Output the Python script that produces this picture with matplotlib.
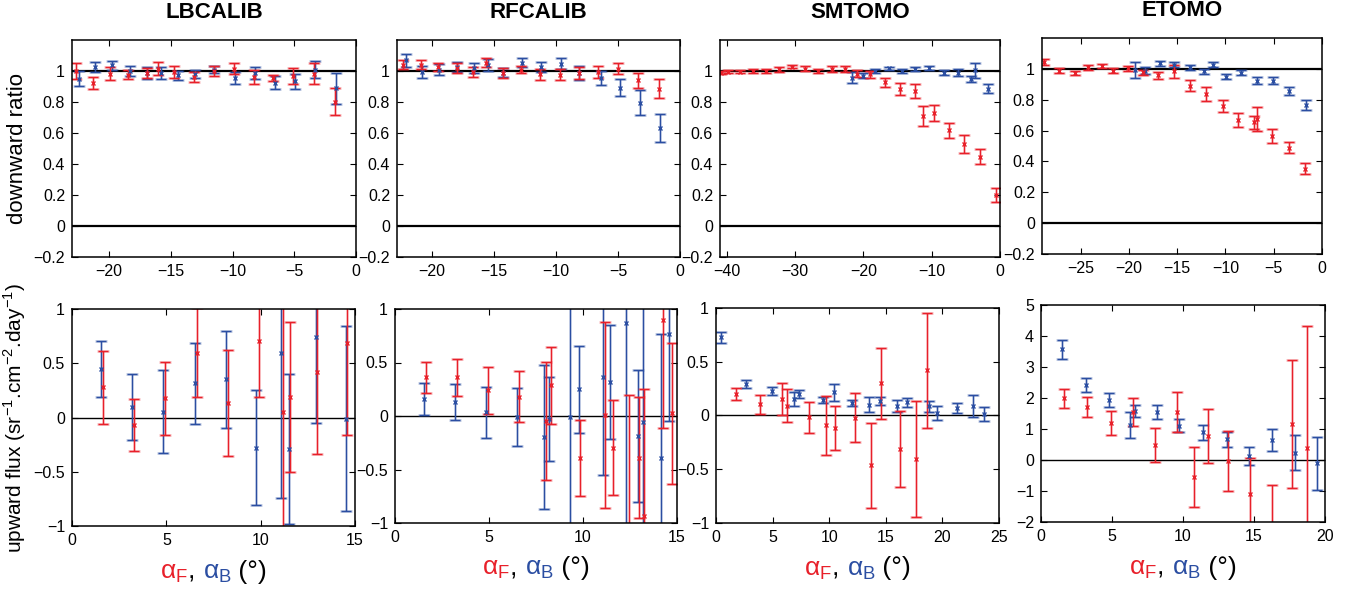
import matplotlib
matplotlib.use("Agg")
import matplotlib.pyplot as plt
from matplotlib.ticker import FuncFormatter
from matplotlib.offsetbox import TextArea, HPacker, AnchoredOffsetbox

plt.rcParams['font.family'] = ['Liberation Sans', 'DejaVu Sans']

RED = '#e8202a'
BLUE = '#2b4ea2'

titles = ["LBCALIB", "RFCALIB", "SMTOMO", "ETOMO"]

# --- downward ratio (top row) ---
# LBCALIB
lb_top_xF = [-22.7, -21.3, -19.9, -18.5, -16.9, -16.0, -14.7, -13.1, -11.5, -9.9, -8.3, -6.7, -5.1, -3.4, -1.7]
lb_top_yF = [1.0, 0.924, 0.983, 0.976, 0.987, 1.015, 0.993, 0.961, 1.0, 1.015, 0.961, 0.955, 0.968, 0.983, 0.803]
lb_top_eF = [0.05, 0.04, 0.04, 0.03, 0.035, 0.04, 0.037, 0.03, 0.03, 0.037, 0.045, 0.02, 0.05, 0.07, 0.09]
lb_top_xB = [-22.4, -21.1, -19.8, -18.3, -16.9, -15.8, -14.4, -13.0, -11.5, -9.8, -8.2, -6.6, -4.9, -3.3, -1.6]
lb_top_yB = [0.95, 1.026, 1.037, 1.0, 0.987, 0.987, 0.972, 0.983, 1.009, 0.955, 0.987, 0.924, 0.935, 1.009, 0.89]
lb_top_eB = [0.05, 0.03, 0.03, 0.03, 0.037, 0.037, 0.03, 0.025, 0.025, 0.04, 0.037, 0.043, 0.048, 0.057, 0.1]

# RFCALIB
rf_top_xF = [-22.3, -20.9, -19.5, -18.0, -16.7, -15.6, -14.3, -12.8, -11.3, -9.7, -8.1, -6.6, -5.0, -3.4, -1.7]
rf_top_yF = [1.04, 1.04, 1.026, 1.02, 0.994, 1.054, 0.987, 1.009, 0.978, 0.976, 0.987, 0.994, 1.015, 0.94, 0.886]
rf_top_eF = [0.03, 0.03, 0.025, 0.03, 0.03, 0.03, 0.03, 0.025, 0.035, 0.035, 0.04, 0.04, 0.037, 0.05, 0.06]
rf_top_xB = [-22.1, -20.8, -19.4, -18.0, -16.6, -15.5, -14.3, -12.7, -11.2, -9.6, -8.1, -6.4, -4.8, -3.2, -1.6]
rf_top_yB = [1.069, 0.994, 1.009, 1.026, 1.019, 1.04, 0.989, 1.054, 1.026, 1.047, 0.987, 0.957, 0.892, 0.796, 0.634]
rf_top_eB = [0.04, 0.04, 0.035, 0.03, 0.035, 0.04, 0.03, 0.03, 0.033, 0.037, 0.045, 0.045, 0.055, 0.08, 0.09]

# SMTOMO
sm_top_xF = [-40.9, -39.9, -38.0, -36.2, -34.2, -32.3, -30.4, -28.5, -26.6, -24.6, -22.7, -20.9, -19.0, -16.9, -14.7,
             -12.4, -11.3, -9.6, -7.5, -5.2, -2.9, -0.6]
sm_top_yF = [0.99, 0.996, 0.996, 1.0, 1.0, 1.01, 1.028, 1.015, 1.0, 1.015, 1.015, 0.983, 0.978, 0.928, 0.885,
             0.87, 0.71, 0.73, 0.617, 0.528, 0.448, 0.2]
sm_top_eF = [0.01, 0.01, 0.01, 0.01, 0.01, 0.015, 0.01, 0.015, 0.015, 0.02, 0.02, 0.022, 0.025, 0.03, 0.038,
             0.043, 0.065, 0.05, 0.05, 0.057, 0.05, 0.043]
sm_top_xB = [-21.7, -20.1, -18.3, -16.3, -14.4, -12.4, -10.4, -8.2, -6.2, -4.3, -3.7, -1.7]
sm_top_yB = [0.957, 0.97, 1.0, 1.017, 1.0, 1.01, 1.017, 0.99, 0.99, 0.947, 1.004, 0.887]
sm_top_eB = [0.035, 0.017, 0.012, 0.012, 0.012, 0.013, 0.013, 0.015, 0.02, 0.02, 0.048, 0.027]

# ETOMO
et_top_xF = [-28.8, -27.2, -25.6, -24.2, -22.8, -21.6, -20.1, -18.5, -17.0, -15.3, -13.7, -12.0, -10.3, -8.7,
             -7.0, -6.7, -5.2, -3.4, -1.8]
et_top_yF = [1.043, 0.989, 0.972, 1.009, 1.02, 0.989, 1.004, 0.978, 0.957, 0.983, 0.892, 0.837, 0.761, 0.668,
             0.653, 0.675, 0.564, 0.49, 0.354]
et_top_eF = [0.02, 0.015, 0.012, 0.015, 0.012, 0.015, 0.015, 0.015, 0.025, 0.04, 0.037, 0.043, 0.038, 0.043,
             0.04, 0.08, 0.043, 0.038, 0.038]
et_top_xB = [-19.4, -18.3, -16.8, -15.3, -13.7, -12.2, -11.3, -9.9, -8.4, -6.7, -5.1, -3.4, -1.7]
et_top_yB = [0.993, 0.989, 1.037, 1.026, 1.009, 0.983, 1.026, 0.95, 0.976, 0.924, 0.924, 0.857, 0.766]
et_top_eB = [0.05, 0.024, 0.017, 0.017, 0.017, 0.017, 0.017, 0.017, 0.017, 0.02, 0.025, 0.025, 0.03]

# --- upward flux (bottom row) ---
lb_bot_xB = [1.54, 3.18, 4.82, 6.5, 8.16, 9.77, 11.1, 11.5, 12.95, 14.5]
lb_bot_yB = [0.447, 0.099, 0.055, 0.314, 0.351, -0.28, 0.592, -0.29, 0.74, -0.01]
lb_bot_eB = [0.262, 0.305, 0.38, 0.37, 0.445, 0.53, 1.335, 0.69, 0.795, 0.85]
lb_bot_xF = [1.63, 3.3, 4.95, 6.6, 8.25, 9.9, 11.2, 11.55, 13.0, 14.6]
lb_bot_yF = [0.277, -0.065, 0.179, 0.598, 0.136, 0.709, 0.049, 0.191, 0.422, 0.69]
lb_bot_eF = [0.34, 0.24, 0.336, 0.413, 0.49, 0.524, 1.1, 0.69, 0.761, 0.847]

rf_bot_xB = [1.55, 3.2, 4.85, 6.48, 7.94, 8.2, 9.29, 9.77, 11.05, 11.46, 12.29, 12.93, 13.18, 14.17, 14.6]
rf_bot_yB = [0.158, 0.133, 0.034, -0.012, -0.198, -0.028, -0.012, 0.248, 0.36, 0.319, 0.868, -0.186, -0.059,
             -0.388, 0.767]
rf_bot_eB = [0.147, 0.17, 0.235, 0.27, 0.67, 0.395, 1.2, 0.41, 0.91, 0.535, 1.95, 0.62, 1.2, 1.155, 0.81]
rf_bot_xF = [1.63, 3.32, 4.97, 6.6, 8.03, 8.29, 9.86, 11.15, 11.58, 12.43, 12.98, 13.25, 14.24, 14.74]
rf_bot_yF = [0.36, 0.36, 0.242, 0.18, -0.047, 0.288, -0.394, 0.009, -0.295, -1.2, -0.388, -0.938, 0.9, 0.025]
rf_bot_eF = [0.145, 0.17, 0.22, 0.24, 0.55, 0.36, 0.355, 0.865, 0.44, 1.395, 0.565, 1.186, 1.015, 0.66]

sm_bot_xB = [0.44, 2.65, 4.97, 6.88, 7.35, 9.47, 10.4, 12.03, 13.5, 14.47, 16.0, 16.88, 18.8, 19.53, 21.3, 22.7, 23.7]
sm_bot_yB = [0.726, 0.291, 0.229, 0.152, 0.2, 0.146, 0.214, 0.115, 0.1, 0.136, 0.09, 0.124, 0.084, 0.022, 0.068,
             0.09, 0.016]
sm_bot_eB = [0.055, 0.035, 0.035, 0.067, 0.036, 0.028, 0.077, 0.031, 0.072, 0.04, 0.055, 0.041, 0.054, 0.067,
             0.047, 0.104, 0.067]
sm_bot_xF = [1.74, 3.88, 5.85, 6.24, 8.2, 9.76, 10.5, 12.26, 13.7, 14.56, 16.24, 17.7, 18.6]
sm_bot_yF = [0.2, 0.105, 0.152, 0.09, -0.016, -0.093, -0.118, -0.019, -0.465, 0.3, -0.313, -0.406, 0.419]
sm_bot_eF = [0.057, 0.087, 0.147, 0.152, 0.144, 0.275, 0.206, 0.23, 0.395, 0.33, 0.352, 0.54, 0.538]

et_bot_xB = [1.46, 3.15, 4.79, 6.27, 6.62, 8.15, 9.74, 11.4, 13.07, 14.67, 16.3, 17.9, 19.46]
et_bot_yB = [3.57, 2.42, 1.94, 1.13, 1.58, 1.54, 1.11, 0.89, 0.67, 0.13, 0.65, 0.24, -0.11]
et_bot_eB = [0.3, 0.22, 0.23, 0.43, 0.2, 0.23, 0.21, 0.24, 0.24, 0.28, 0.35, 0.56, 0.86]
et_bot_xF = [1.62, 3.26, 4.9, 6.46, 8.03, 9.55, 10.8, 11.78, 13.15, 14.72, 16.24, 17.7, 18.7]
et_bot_yF = [1.99, 1.72, 1.2, 1.56, 0.48, 1.54, -0.56, 0.78, -0.03, -1.11, -2.3, 1.16, 0.4]
et_bot_eF = [0.3, 0.32, 0.39, 0.45, 0.55, 0.65, 0.97, 0.88, 0.98, 1.19, 1.5, 2.05, 3.93]

top_data = [
    (lb_top_xF, lb_top_yF, lb_top_eF, lb_top_xB, lb_top_yB, lb_top_eB),
    (rf_top_xF, rf_top_yF, rf_top_eF, rf_top_xB, rf_top_yB, rf_top_eB),
    (sm_top_xF, sm_top_yF, sm_top_eF, sm_top_xB, sm_top_yB, sm_top_eB),
    (et_top_xF, et_top_yF, et_top_eF, et_top_xB, et_top_yB, et_top_eB),
]
bot_data = [
    (lb_bot_xF, lb_bot_yF, lb_bot_eF, lb_bot_xB, lb_bot_yB, lb_bot_eB),
    (rf_bot_xF, rf_bot_yF, rf_bot_eF, rf_bot_xB, rf_bot_yB, rf_bot_eB),
    (sm_bot_xF, sm_bot_yF, sm_bot_eF, sm_bot_xB, sm_bot_yB, sm_bot_eB),
    (et_bot_xF, et_bot_yF, et_bot_eF, et_bot_xB, et_bot_yB, et_bot_eB),
]

top_xlim = [(-23, 0), (-22.8, 0), (-41, 0), (-29, 0)]
top_xticks = [[-20, -15, -10, -5, 0], [-20, -15, -10, -5, 0], [-40, -30, -20, -10, 0], [-25, -20, -15, -10, -5, 0]]
bot_xlim = [(0, 15), (0, 15), (0, 25), (0, 20)]
bot_xticks = [[0, 5, 10, 15], [0, 5, 10, 15], [0, 5, 10, 15, 20, 25], [0, 5, 10, 15, 20]]
bot_ylim = [(-1, 1), (-1, 1), (-1, 1), (-2, 5)]
bot_yticks = [[-1, -0.5, 0, 0.5, 1]] * 3 + [[-2, -1, 0, 1, 2, 3, 4, 5]]

# axes boxes in pixels (left, top, right, bottom) on the 1355x593 canvas
W, H = 1355, 593
top_box = [(72, 40, 356, 257), (397, 40, 680, 257), (720, 40, 1000, 257), (1042, 38, 1322, 254)]
bot_box = [(72, 309, 355, 526), (395, 309, 677, 523), (716, 308, 999, 523), (1041, 305, 1325, 522)]


def fmt(v, pos):
    return ('%g' % v).replace('-', '\u2212')


def make_ax(fig, box):
    l, t, r, b = box
    ax = fig.add_axes([l / W, 1 - b / H, (r - l) / W, (b - t) / H])
    ax.tick_params(direction='in', top=True, right=True, length=4, width=0.8, labelsize=11.5, pad=5)
    for s in ax.spines.values():
        s.set_linewidth(1.1)
    ax.yaxis.set_major_formatter(FuncFormatter(fmt))
    ax.xaxis.set_major_formatter(FuncFormatter(fmt))
    return ax


def bars(ax, x, y, e, col):
    # light wide bar underneath, thin solid bar on top
    ax.errorbar(x, y, yerr=e, fmt='none', ecolor=col, elinewidth=2.0, capsize=4, capthick=2.0, alpha=0.3)
    ax.errorbar(x, y, yerr=e, fmt='x', color=col, ms=3, mew=1, elinewidth=0.8, capsize=3.5, capthick=0.9)


fig = plt.figure(figsize=(13.55, 5.93), dpi=100)

for i in range(4):
    ax = make_ax(fig, top_box[i])
    xF, yF, eF, xB, yB, eB = top_data[i]
    ax.axhline(1, color='k', lw=1.6, zorder=0)
    ax.axhline(0, color='k', lw=1.6, zorder=0)
    bars(ax, xB, yB, eB, BLUE)
    bars(ax, xF, yF, eF, RED)
    ax.set_xlim(top_xlim[i])
    ax.set_ylim(-0.2, 1.2)
    ax.set_xticks(top_xticks[i])
    ax.set_yticks([-0.2, 0, 0.2, 0.4, 0.6, 0.8, 1])
    ax.set_title(titles[i], fontsize=16, fontweight='bold', pad=16)
    if i == 0:
        ax.set_ylabel("downward ratio", fontsize=16)
        ax.yaxis.set_label_coords(-0.155, 0.5)

    ax = make_ax(fig, bot_box[i])
    xF, yF, eF, xB, yB, eB = bot_data[i]
    ax.axhline(0, color='k', lw=1.0, zorder=0)
    bars(ax, xB, yB, eB, BLUE)
    bars(ax, xF, yF, eF, RED)
    ax.set_xlim(bot_xlim[i])
    ax.set_ylim(bot_ylim[i])
    ax.set_xticks(bot_xticks[i])
    ax.set_yticks(bot_yticks[i])
    if i == 0:
        ax.set_ylabel(r"upward flux (sr$^{\mathregular{-1}}$.cm$^{\mathregular{-2}}$.day$^{\mathregular{-1}}$)",
                      fontsize=15)
        ax.yaxis.set_label_coords(-0.155, 0.5)

    # coloured x label: alpha_F, alpha_B (deg)
    parts = [TextArea(r"$\mathregular{α_F}$", textprops=dict(color=RED, fontsize=19)),
             TextArea(", ", textprops=dict(color='k', fontsize=19)),
             TextArea(r"$\mathregular{α_B}$", textprops=dict(color=BLUE, fontsize=19)),
             TextArea(" (°)", textprops=dict(color='k', fontsize=19))]
    pack = HPacker(children=parts, align='baseline', pad=0, sep=0)
    box = AnchoredOffsetbox(loc='upper center', child=pack, pad=0, frameon=False,
                            bbox_to_anchor=(0.5, -0.155), bbox_transform=ax.transAxes, borderpad=0)
    ax.add_artist(box)

plt.savefig("out.png", dpi=100)
